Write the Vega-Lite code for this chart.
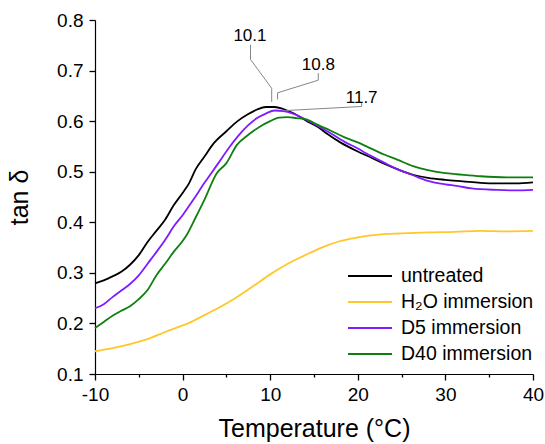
{
  "$schema": "https://vega.github.io/schema/vega-lite/v6.json",
  "width": 438,
  "height": 354,
  "autosize": {"type": "none"},
  "padding": {"left": 95, "top": 20, "right": 12, "bottom": 70},
  "config": {
    "view": {"stroke": null},
    "font": "Liberation Sans",
    "axis": {"grid": false, "labelColor": "#000", "titleColor": "#000", "labelFont": "Liberation Sans", "titleFont": "Liberation Sans", "titleFontWeight": "normal"},
    "legend": {"labelFont": "Liberation Sans"}
  },
  "datasets": {
    "curves": [
      {"series":"untreated","T":-10,"tan":0.279},{"series":"untreated","T":-9,"tan":0.285},{"series":"untreated","T":-8,"tan":0.293},{"series":"untreated","T":-7,"tan":0.302},{"series":"untreated","T":-6,"tan":0.316},{"series":"untreated","T":-5,"tan":0.335},{"series":"untreated","T":-4,"tan":0.361},{"series":"untreated","T":-3,"tan":0.383},{"series":"untreated","T":-2,"tan":0.405},{"series":"untreated","T":-1,"tan":0.434},{"series":"untreated","T":0,"tan":0.458},{"series":"untreated","T":0.7,"tan":0.476},{"series":"untreated","T":1.5,"tan":0.505},{"series":"untreated","T":2.5,"tan":0.530},{"series":"untreated","T":3.5,"tan":0.555},{"series":"untreated","T":5,"tan":0.580},{"series":"untreated","T":6.2,"tan":0.599},{"series":"untreated","T":7.5,"tan":0.614},{"series":"untreated","T":8.5,"tan":0.623},{"series":"untreated","T":9.5,"tan":0.628},{"series":"untreated","T":10.5,"tan":0.628},{"series":"untreated","T":11.5,"tan":0.624},{"series":"untreated","T":12.6,"tan":0.616},{"series":"untreated","T":14.2,"tan":0.600},{"series":"untreated","T":15.5,"tan":0.588},{"series":"untreated","T":16.5,"tan":0.575},{"series":"untreated","T":18,"tan":0.558},{"series":"untreated","T":20,"tan":0.540},{"series":"untreated","T":21,"tan":0.532},{"series":"untreated","T":23,"tan":0.516},{"series":"untreated","T":24.5,"tan":0.505},{"series":"untreated","T":26.3,"tan":0.494},{"series":"untreated","T":28,"tan":0.488},{"series":"untreated","T":30,"tan":0.484},{"series":"untreated","T":32,"tan":0.481},{"series":"untreated","T":34,"tan":0.478},{"series":"untreated","T":36,"tan":0.477},{"series":"untreated","T":38,"tan":0.477},{"series":"untreated","T":40,"tan":0.479},
      {"series":"H₂O immersion","T":-10,"tan":0.145},{"series":"H₂O immersion","T":-8,"tan":0.151},{"series":"H₂O immersion","T":-6,"tan":0.159},{"series":"H₂O immersion","T":-4,"tan":0.169},{"series":"H₂O immersion","T":-2,"tan":0.183},{"series":"H₂O immersion","T":0,"tan":0.196},{"series":"H₂O immersion","T":1,"tan":0.203},{"series":"H₂O immersion","T":2,"tan":0.212},{"series":"H₂O immersion","T":4,"tan":0.230},{"series":"H₂O immersion","T":6,"tan":0.250},{"series":"H₂O immersion","T":8,"tan":0.273},{"series":"H₂O immersion","T":10,"tan":0.297},{"series":"H₂O immersion","T":12,"tan":0.318},{"series":"H₂O immersion","T":14,"tan":0.335},{"series":"H₂O immersion","T":16,"tan":0.351},{"series":"H₂O immersion","T":18,"tan":0.363},{"series":"H₂O immersion","T":20,"tan":0.370},{"series":"H₂O immersion","T":22,"tan":0.375},{"series":"H₂O immersion","T":25,"tan":0.378},{"series":"H₂O immersion","T":28,"tan":0.380},{"series":"H₂O immersion","T":31,"tan":0.381},{"series":"H₂O immersion","T":34,"tan":0.383},{"series":"H₂O immersion","T":37,"tan":0.382},{"series":"H₂O immersion","T":40,"tan":0.383},
      {"series":"D5 immersion","T":-10,"tan":0.230},{"series":"D5 immersion","T":-9,"tan":0.238},{"series":"D5 immersion","T":-8,"tan":0.252},{"series":"D5 immersion","T":-7,"tan":0.265},{"series":"D5 immersion","T":-6,"tan":0.278},{"series":"D5 immersion","T":-5,"tan":0.295},{"series":"D5 immersion","T":-4,"tan":0.318},{"series":"D5 immersion","T":-3,"tan":0.341},{"series":"D5 immersion","T":-2,"tan":0.365},{"series":"D5 immersion","T":-1,"tan":0.392},{"series":"D5 immersion","T":0,"tan":0.414},{"series":"D5 immersion","T":1.2,"tan":0.444},{"series":"D5 immersion","T":2.5,"tan":0.478},{"series":"D5 immersion","T":4,"tan":0.515},{"series":"D5 immersion","T":5.4,"tan":0.550},{"series":"D5 immersion","T":6.5,"tan":0.574},{"series":"D5 immersion","T":7.5,"tan":0.592},{"series":"D5 immersion","T":8.5,"tan":0.606},{"series":"D5 immersion","T":9.5,"tan":0.615},{"series":"D5 immersion","T":10.5,"tan":0.621},{"series":"D5 immersion","T":11.5,"tan":0.620},{"series":"D5 immersion","T":12.6,"tan":0.615},{"series":"D5 immersion","T":14.2,"tan":0.602},{"series":"D5 immersion","T":15.5,"tan":0.590},{"series":"D5 immersion","T":16.8,"tan":0.577},{"series":"D5 immersion","T":18.5,"tan":0.559},{"series":"D5 immersion","T":20,"tan":0.546},{"series":"D5 immersion","T":21,"tan":0.536},{"series":"D5 immersion","T":23,"tan":0.518},{"series":"D5 immersion","T":24.5,"tan":0.505},{"series":"D5 immersion","T":26.3,"tan":0.493},{"series":"D5 immersion","T":28,"tan":0.482},{"series":"D5 immersion","T":30,"tan":0.475},{"series":"D5 immersion","T":31.3,"tan":0.472},{"series":"D5 immersion","T":33,"tan":0.467},{"series":"D5 immersion","T":35.9,"tan":0.464},{"series":"D5 immersion","T":38,"tan":0.463},{"series":"D5 immersion","T":40,"tan":0.464},
      {"series":"D40 immersion","T":-10,"tan":0.191},{"series":"D40 immersion","T":-9,"tan":0.203},{"series":"D40 immersion","T":-8,"tan":0.215},{"series":"D40 immersion","T":-7,"tan":0.225},{"series":"D40 immersion","T":-6,"tan":0.234},{"series":"D40 immersion","T":-5,"tan":0.248},{"series":"D40 immersion","T":-4,"tan":0.266},{"series":"D40 immersion","T":-3,"tan":0.295},{"series":"D40 immersion","T":-2,"tan":0.318},{"series":"D40 immersion","T":-1,"tan":0.342},{"series":"D40 immersion","T":0,"tan":0.363},{"series":"D40 immersion","T":0.5,"tan":0.376},{"series":"D40 immersion","T":1.5,"tan":0.410},{"series":"D40 immersion","T":2.5,"tan":0.445},{"series":"D40 immersion","T":3.9,"tan":0.497},{"series":"D40 immersion","T":5,"tan":0.517},{"series":"D40 immersion","T":6.2,"tan":0.553},{"series":"D40 immersion","T":7.5,"tan":0.573},{"series":"D40 immersion","T":8.8,"tan":0.589},{"series":"D40 immersion","T":10,"tan":0.600},{"series":"D40 immersion","T":11,"tan":0.607},{"series":"D40 immersion","T":12,"tan":0.608},{"series":"D40 immersion","T":13,"tan":0.606},{"series":"D40 immersion","T":14.2,"tan":0.603},{"series":"D40 immersion","T":15.5,"tan":0.592},{"series":"D40 immersion","T":16.8,"tan":0.582},{"series":"D40 immersion","T":18.5,"tan":0.568},{"series":"D40 immersion","T":20,"tan":0.558},{"series":"D40 immersion","T":21,"tan":0.550},{"series":"D40 immersion","T":23,"tan":0.534},{"series":"D40 immersion","T":24.5,"tan":0.524},{"series":"D40 immersion","T":26.3,"tan":0.511},{"series":"D40 immersion","T":28,"tan":0.503},{"series":"D40 immersion","T":30,"tan":0.497},{"series":"D40 immersion","T":31.3,"tan":0.495},{"series":"D40 immersion","T":34,"tan":0.491},{"series":"D40 immersion","T":37,"tan":0.489},{"series":"D40 immersion","T":40,"tan":0.489}
    ],
    "leaders": [
      {"grp":1,"ord":1,"T":7.75,"tan":0.751},{"grp":1,"ord":2,"T":7.75,"tan":0.722},{"grp":1,"ord":3,"T":10.17,"tan":0.665},{"grp":1,"ord":4,"T":10.17,"tan":0.638},
      {"grp":2,"ord":1,"T":15.49,"tan":0.695},{"grp":2,"ord":2,"T":15.49,"tan":0.681},{"grp":2,"ord":3,"T":10.84,"tan":0.656},{"grp":2,"ord":4,"T":10.84,"tan":0.643},
      {"grp":3,"ord":1,"T":20.44,"tan":0.638},{"grp":3,"ord":2,"T":20.44,"tan":0.629},{"grp":3,"ord":3,"T":11.8,"tan":0.621}
    ],
    "labels": [
      {"T":7.69,"tan":0.768,"label":"10.1"},
      {"T":15.49,"tan":0.712,"label":"10.8"},
      {"T":20.44,"tan":0.646,"label":"11.7"}
    ]
  },
  "layer": [
    {
      "data": {"name": "curves"},
      "mark": {"type": "line", "strokeWidth": 1.8, "interpolate": "monotone"},
      "encoding": {
        "x": {"field": "T", "type": "quantitative", "scale": {"domain": [-10, 40], "nice": false, "zero": false},
          "axis": {"orient": "bottom", "values": [-10, -5, 0, 5, 10, 15, 20, 25, 30, 35, 40],
            "labelExpr": "datum.value % 10 === 0 ? replace(datum.label, '−', '-') : ''",
            "ticks": true, "tickColor": "#000000", "tickWidth": 1.3, "domainColor": "#000000", "domainWidth": 1.2,
            "tickSize": {"condition": {"test": "datum.value % 10 === 0", "value": 6}, "value": 3},
            "labelFontSize": 19, "labelPadding": 5, "title": "Temperature (°C)", "titleFontSize": 25, "titlePadding": 12, "labelFlush": false}},
        "y": {"field": "tan", "type": "quantitative", "scale": {"domain": [0.1, 0.8], "nice": false, "zero": false},
          "axis": {"orient": "left", "values": [0.1, 0.15, 0.2, 0.25, 0.3, 0.35, 0.4, 0.45, 0.5, 0.55, 0.6, 0.65, 0.7, 0.75, 0.8], "format": ".2f",
            "labelExpr": "round(datum.value * 100) % 10 === 0 ? format(datum.value, '.1f') : ''",
            "ticks": true, "tickColor": "#000000", "tickWidth": 1.3, "domainColor": "#000000", "domainWidth": 1.2,
            "tickSize": {"condition": {"test": "round(datum.value * 100) % 10 === 0", "value": 6}, "value": 3},
            "labelFontSize": 19, "labelPadding": 6, "title": "tan δ", "titleFontSize": 25, "titlePadding": 24, "labelFlush": false}},
        "color": {"field": "series", "type": "nominal",
          "scale": {"domain": ["untreated", "H₂O immersion", "D5 immersion", "D40 immersion"], "range": ["#000000", "#FFC72C", "#7F1CFF", "#0F800F"]},
          "legend": {"orient": "none", "legendX": 252, "legendY": 243, "title": null, "symbolType": "stroke", "symbolSize": 1936, "symbolStrokeWidth": 1.8, "labelFontSize": 19.5, "labelOffset": 8, "rowPadding": 0, "clipHeight": 26, "padding": 0, "labelColor": "#000"}}
      }
    },
    {
      "data": {"name": "leaders"},
      "mark": {"type": "line", "stroke": "#858585", "strokeWidth": 1},
      "encoding": {
        "x": {"field": "T", "type": "quantitative"},
        "y": {"field": "tan", "type": "quantitative"},
        "detail": {"field": "grp", "type": "nominal"},
        "order": {"field": "ord", "type": "quantitative"}
      }
    },
    {
      "data": {"name": "labels"},
      "mark": {"type": "text", "fontSize": 17, "font": "Liberation Sans", "color": "#000", "align": "center", "baseline": "middle"},
      "encoding": {
        "x": {"field": "T", "type": "quantitative"},
        "y": {"field": "tan", "type": "quantitative"},
        "text": {"field": "label"}
      }
    }
  ]
}
